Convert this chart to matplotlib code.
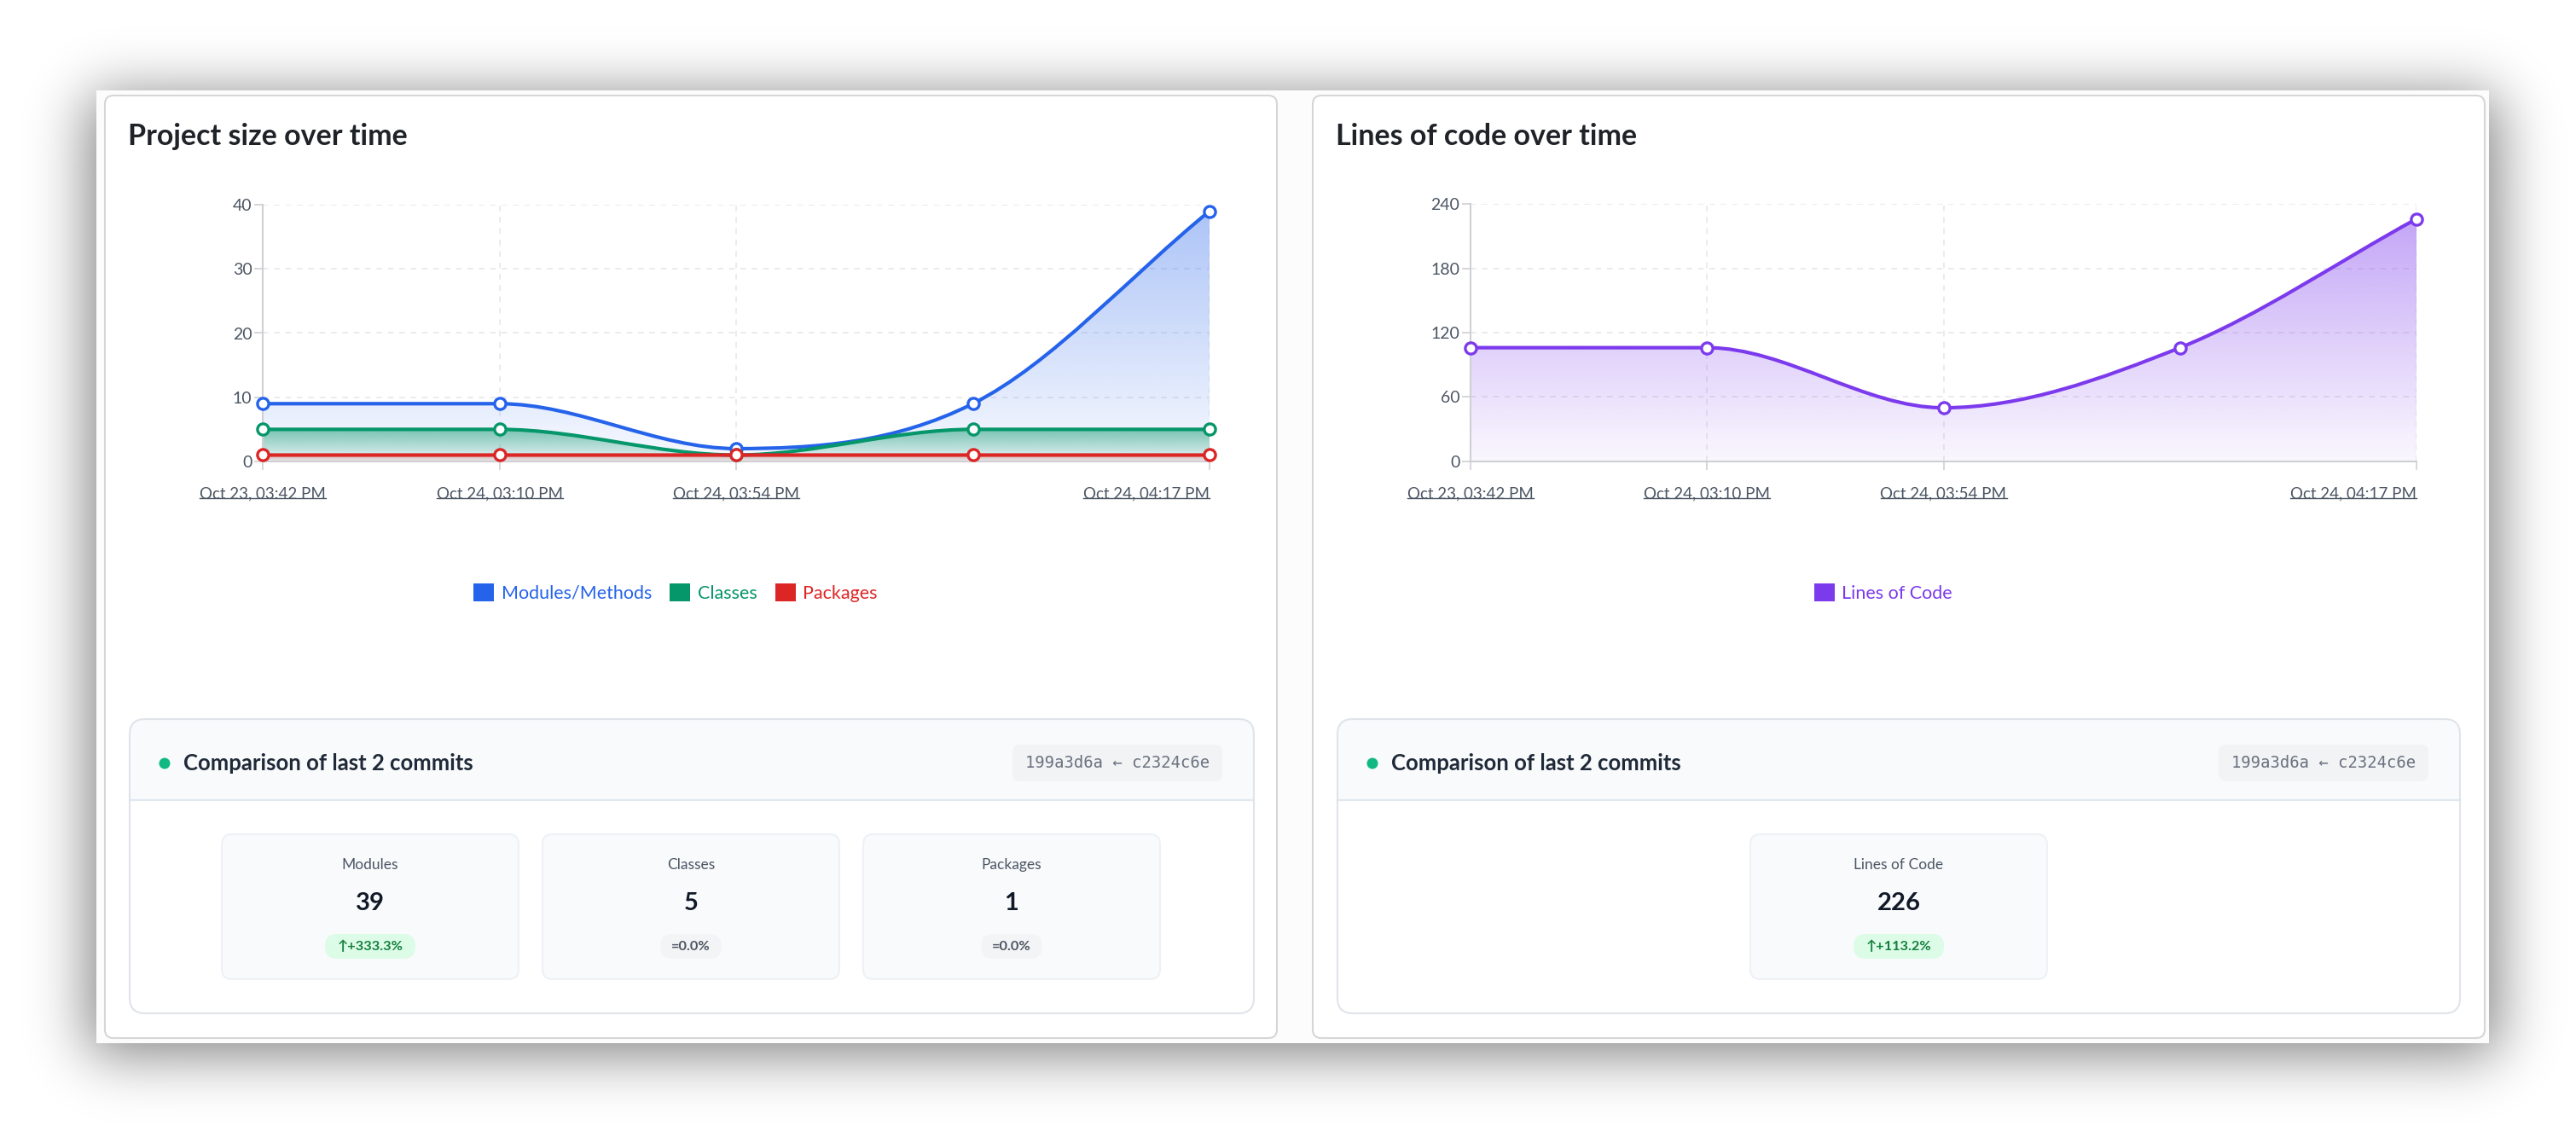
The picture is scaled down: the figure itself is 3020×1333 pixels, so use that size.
import math
import numpy as np
import matplotlib.pyplot as plt
from matplotlib.path import Path
from matplotlib.patches import PathPatch, FancyBboxPatch, Rectangle, Patch, Circle
from matplotlib.lines import Line2D
from matplotlib.transforms import IdentityTransform
from matplotlib.colors import to_rgb

plt.rcParams['font.family'] = ['Lato', 'DejaVu Sans']

# ---- data ----
tick_labels = ['Oct 23, 03:42 PM', 'Oct 24, 03:10 PM', 'Oct 24, 03:54 PM', 'Oct 24, 04:17 PM']
tick_idx = [0, 1, 2, 4]   # commit index that gets a label (the 4th one is skipped)

modules = [9, 9, 2, 9, 39]
classes = [5, 5, 1, 5, 5]
packages = [1, 1, 1, 1, 1]
lines_of_code = [106, 106, 50, 106, 226]

size_names = ['Modules/Methods', 'Classes', 'Packages']
loc_names = ['Lines of Code']

stat_names = ['Modules', 'Classes', 'Packages']
stat_values = ['39', '5', '1']
stat_changes = ['\u2191+333.3%', '=0.0%', '=0.0%']
loc_stat_names = ['Lines of Code']
loc_stat_values = ['226']
loc_stat_changes = ['\u2191+113.2%']

commit_new = '199a3d6a'
commit_old = 'c2324c6e'

BLUE, GREEN, RED, PURPLE = '#2563eb', '#059669', '#dc2626', '#7c3aed'

W, H = 3020, 1333
fig = plt.figure(figsize=(W / 100, H / 100), dpi=100)
fig.patch.set_facecolor('white')

# background axes in pixel coords (y down)
bg = fig.add_axes([0, 0, 1, 1], zorder=0)
bg.axis('off')

# soft drop shadow around the page frame
erf = np.vectorize(math.erf)


def soft(v, a, b, s):
    k = s * math.sqrt(2)
    return 0.5 * (erf((v - a) / k) - erf((v - b) / k))


px = np.arange(W) + 0.5
py = np.arange(H) + 0.5
shadow = np.zeros((H, W, 4))
shadow[..., 3] = 0.5 * np.outer(soft(py, 112, 1236, 34), soft(px, 104, 2928, 34))
bg.imshow(shadow, extent=(0, W, H, 0), interpolation='nearest', aspect='auto', zorder=0)
bg.set_xlim(0, W)
bg.set_ylim(H, 0)

bg.add_patch(Rectangle((113, 106), 2805, 1117, fc='#fcfcfc', ec='none', zorder=1))
for cx in (123, 1539):
    bg.add_patch(FancyBboxPatch((cx, 112), 1374, 1105, boxstyle='round,pad=0,rounding_size=10',
                                fc='white', ec='#d6d6d9', lw=1.5, zorder=1.5))

bg.text(150, 160, 'Project size over time', fontsize=24.5, weight='bold', color='#1f2328',
        ha='left', va='center', zorder=3)
bg.text(1566, 160, 'Lines of code over time', fontsize=24.5, weight='bold', color='#1f2328',
        ha='left', va='center', zorder=3)


def badge_style(change):
    if change.startswith('\u2191'):
        return '#dcfce7', '#15803d'
    return '#f3f4f6', '#4b5563'


def compare_panel(x0, x1, card_xs, names, values, changes):
    top, sep, bottom, r = 843, 938, 1188, 18
    w = x1 - x0
    bg.add_patch(FancyBboxPatch((x0, top), w, bottom - top, boxstyle=f'round,pad=0,rounding_size={r}',
                                fc='white', ec='none', zorder=2))
    bg.add_patch(FancyBboxPatch((x0, top), w, sep - top, boxstyle=f'round,pad=0,rounding_size={r}',
                                fc='#f8fafc', ec='none', zorder=3))
    bg.add_patch(Rectangle((x0, sep - r), w, r, fc='#f8fafc', ec='none', zorder=3))
    bg.plot([x0, x1], [sep, sep], color='#e2e8f0', lw=1.6, zorder=4)
    bg.add_patch(FancyBboxPatch((x0, top), w, bottom - top, boxstyle=f'round,pad=0,rounding_size={r}',
                                fc='none', ec='#e0e4ea', lw=1.5, zorder=5))
    bg.add_patch(Circle((x0 + 41, 895), 6.5, fc='#10b981', ec='none', zorder=6))
    bg.text(x0 + 63, 895, 'Comparison of last 2 commits', fontsize=18.5, weight='bold',
            color='#1f2937', ha='left', va='center', zorder=6)
    hx1 = x1 - 37
    hx0 = hx1 - 246
    bg.add_patch(FancyBboxPatch((hx0, 873), hx1 - hx0, 43, boxstyle='round,pad=0,rounding_size=9',
                                fc='#f1f3f5', ec='none', zorder=6))
    bg.text((hx0 + hx1) / 2, 895, f'{commit_new} \u2190 {commit_old}', family='DejaVu Sans Mono',
            fontsize=13.6, color='#6b7280', ha='center', va='center', zorder=7)
    for cx, name, val, ch in zip(card_xs, names, values, changes):
        bg.add_patch(FancyBboxPatch((cx, 978), 348, 170, boxstyle='round,pad=0,rounding_size=12',
                                    fc='#f8fafc', ec='#eef1f5', lw=1.5, zorder=6))
        mid = cx + 174
        bg.text(mid, 1014, name, fontsize=12.5, color='#4b5563', ha='center', va='center', zorder=7)
        bg.text(mid, 1059, val, fontsize=21, weight='bold', color='#111827', ha='center', va='center', zorder=7)
        fc, tc = badge_style(ch)
        bw = 11.5 * len(ch) + 14
        bg.add_patch(FancyBboxPatch((mid - bw / 2, 1095), bw, 29, boxstyle='round,pad=0,rounding_size=14',
                                    fc=fc, ec='none', zorder=7))
        bg.text(mid, 1110, ch, fontsize=11.8, weight='bold', color=tc, ha='center', va='center', zorder=8)


compare_panel(152, 1470, [260, 636, 1012], stat_names, stat_values, stat_changes)
compare_panel(1568, 2884, [2052], loc_stat_names, loc_stat_values, loc_stat_changes)


# ---- charts ----
def monotone(ys):
    n = len(ys)
    x = np.arange(n, dtype=float)
    y = np.asarray(ys, dtype=float)
    d = np.diff(y)
    m = np.zeros(n)
    for i in range(n):
        if i == 0:
            m[i] = d[0]
        elif i == n - 1:
            m[i] = d[-1]
        elif np.sign(d[i - 1]) != np.sign(d[i]):
            m[i] = 0
        else:
            m[i] = (d[i - 1] + d[i]) / 2
    for i in range(n - 1):
        if d[i] == 0:
            m[i] = m[i + 1] = 0
            continue
        a, b = m[i] / d[i], m[i + 1] / d[i]
        sq = a * a + b * b
        if sq <= 9:
            continue
        t = 3 / math.sqrt(sq)
        m[i], m[i + 1] = a * t * d[i], b * t * d[i]
    verts = [(x[0], y[0])]
    codes = [Path.MOVETO]
    for i in range(n - 1):
        h = (x[i + 1] - x[i]) / 3
        verts += [(x[i] + h, y[i] + h * m[i]), (x[i + 1] - h, y[i + 1] - h * m[i + 1]), (x[i + 1], y[i + 1])]
        codes += [Path.CURVE4] * 3
    return verts, codes


def draw_chart(ax, series, colors, ymax, yticks, hi_alphas):
    n = len(series[0])
    for k, (vals, col, hi) in enumerate(zip(series, colors, hi_alphas)):
        verts, codes = monotone(vals)
        fp = PathPatch(Path(verts + [(n - 1, 0), (0, 0), (0, vals[0])],
                            codes + [Path.LINETO, Path.LINETO, Path.CLOSEPOLY]),
                       fc='none', ec='none')
        ax.add_patch(fp)
        grad = np.zeros((256, 1, 4))
        grad[..., :3] = to_rgb(col)
        grad[:, 0, 3] = np.linspace(0.04, hi, 256)
        im = ax.imshow(grad, extent=(0, n - 1, 0, max(vals)), origin='lower', aspect='auto',
                       interpolation='bilinear', zorder=1 + k * 0.1)
        im.set_clip_path(fp)
        ax.add_patch(PathPatch(Path(verts, codes), fc='none', ec=col, lw=3.0, zorder=3 + k,
                               capstyle='round', joinstyle='round'))
        ax.plot(range(n), vals, 'o', ms=9.5, mfc='white', mec=col, mew=2.4, zorder=3.5 + k, clip_on=False)
    ax.set_xlim(0, n - 1)
    ax.set_ylim(0, ymax)
    ax.set_yticks(yticks)
    ax.set_xticks(tick_idx, tick_labels)
    ax.get_xticklabels()[-1].set_horizontalalignment('right')
    ax.set_facecolor('none')
    ax.grid(True, ls=(0, (4, 4)), color='#e8e8ec', lw=1.2)
    ax.set_axisbelow(True)
    for s in ('top', 'right'):
        ax.spines[s].set_visible(False)
    for s in ('left', 'bottom'):
        ax.spines[s].set_color('#cfd0d4')
        ax.spines[s].set_linewidth(1.5)
    ax.tick_params(axis='both', color='#cfd0d4', length=7, width=1.2, labelcolor='#4b5563')
    ax.tick_params(axis='y', labelsize=14, pad=2)
    ax.tick_params(axis='x', labelsize=13.5, pad=14)


ax1 = fig.add_axes([308 / W, 1 - 541 / H, 1110 / W, 301 / H], zorder=2)
draw_chart(ax1, [modules, classes, packages], [BLUE, GREEN, RED], 40, [0, 10, 20, 30, 40],
           [0.38, 0.5, 0.3])
ax2 = fig.add_axes([1724 / W, 1 - 541 / H, 1109 / W, 302 / H], zorder=2)
draw_chart(ax2, [lines_of_code], [PURPLE], 240, [0, 60, 120, 180, 240], [0.45])

for names, cols, cx in ((size_names, [BLUE, GREEN, RED], 792), (loc_names, [PURPLE], 2208)):
    leg = fig.legend(handles=[Patch(fc=c, ec='none') for c in cols], labels=names, loc='center',
                     bbox_to_anchor=(cx / W, 1 - 695 / H), ncol=len(names), frameon=False,
                     fontsize=15.5, handlelength=1.1, handleheight=1.1, handletextpad=0.4,
                     columnspacing=1.0)
    for t, c in zip(leg.get_texts(), cols):
        t.set_color(c)

# underline the date tick labels
fig.canvas.draw()
renderer = fig.canvas.get_renderer()
for ax in (ax1, ax2):
    for lbl in ax.get_xticklabels():
        bb = lbl.get_window_extent(renderer)
        fig.add_artist(Line2D([bb.x0, bb.x1], [bb.y0 + 3, bb.y0 + 3], transform=IdentityTransform(),
                              color='#4b5563', lw=1.0))

fig.savefig('out.png', dpi=100)
